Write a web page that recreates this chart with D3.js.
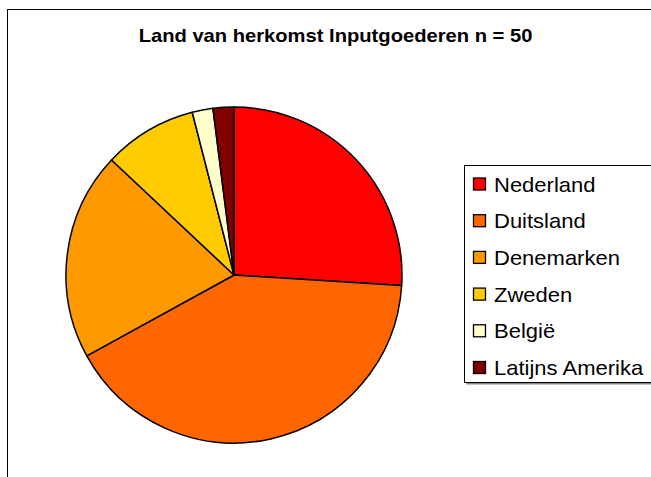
<!DOCTYPE html>
<html><head><meta charset="utf-8">
<script src="https://cdn.jsdelivr.net/npm/d3@7"></script>
<style>body{margin:0;background:#fff}svg{display:block}</style>
</head><body>
<svg id="c" width="651" height="477"></svg>
<script>
const title = "Land van herkomst Inputgoederen n = 50";
const categories = ["Nederland","Duitsland","Denemarken","Zweden","België","Latijns Amerika"];
const values = [26,41,20,9,2,2];
const colors = ["#FF0000","#FF6600","#FF9900","#FFCC00","#FFFFCC","#800000"];

const svg = d3.select("#c");
svg.append("rect").attr("x",7.5).attr("y",9.5).attr("width",700).attr("height",520)
  .attr("fill","#fff").attr("stroke","#000").attr("stroke-width",1);

svg.append("text").attr("transform","translate(335.5,42) scale(1.12,1)").attr("text-anchor","middle")
  .attr("font-family","Liberation Sans, Arial, sans-serif").attr("font-weight","bold")
  .attr("font-size",18).attr("fill","#000").text(title);

const cx=234, cy=275, r=168;
const pie = d3.pie().sort(null).value(d=>d)(values);
const arc = d3.arc().innerRadius(0).outerRadius(r);
const color = d3.scaleOrdinal().domain(categories).range(colors);
svg.append("g").attr("transform",`translate(${cx},${cy})`)
  .selectAll("path").data(pie).join("path")
  .attr("d",arc).attr("fill",(d,i)=>color(categories[i]))
  .attr("stroke","#000").attr("stroke-width",1.5).attr("stroke-linejoin","round");

// legend
const lx=464.5, ly=165.5;
svg.append("rect").attr("x",lx+2).attr("y",ly+2).attr("width",300).attr("height",217).attr("fill","#888");
svg.append("rect").attr("x",lx).attr("y",ly).attr("width",300).attr("height",217)
  .attr("fill","#fff").attr("stroke","#000").attr("stroke-width",1);
const ys = d3.scalePoint().domain(categories).range([184,367.5]);
const lg = svg.append("g").selectAll("g").data(categories).join("g")
  .attr("transform",d=>`translate(0,${ys(d)})`);
lg.append("rect").attr("x",473.5).attr("y",-6).attr("width",12).attr("height",12)
  .attr("fill",d=>color(d)).attr("stroke","#000").attr("stroke-width",1.3);
lg.append("text").attr("transform","translate(494,7.5) scale(1.1,1)").attr("font-family","Liberation Sans, Arial, sans-serif")
  .attr("font-size",20).attr("fill","#000").text(d=>d);
</script>
</body></html>
